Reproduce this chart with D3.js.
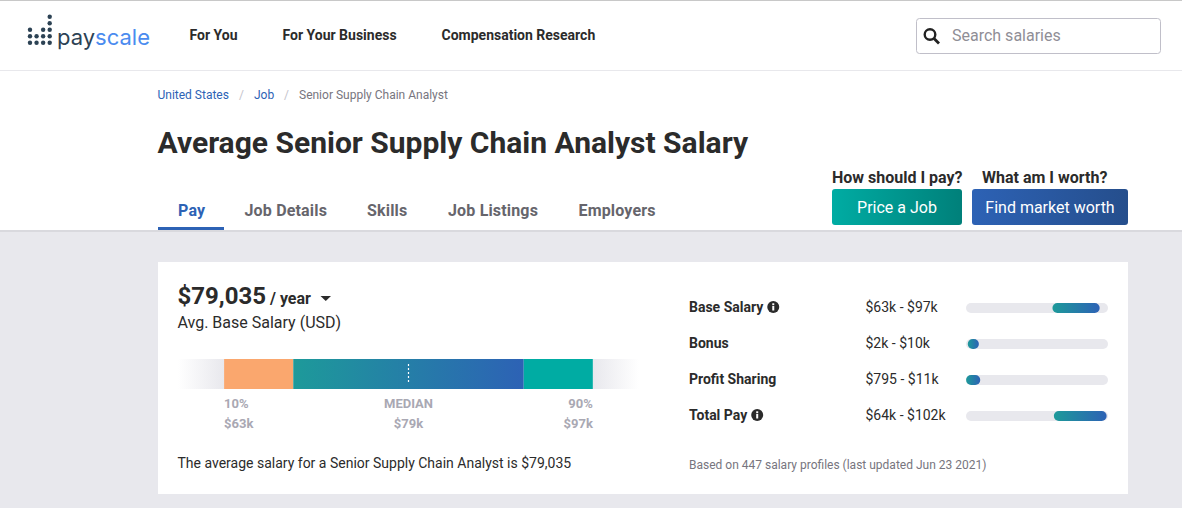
<!DOCTYPE html>
<html><head><meta charset="utf-8">
<script src="https://cdn.jsdelivr.net/npm/d3@7/dist/d3.min.js"></script>
<style>html,body{margin:0;padding:0;background:#fff;overflow:hidden}svg{display:block}text{font-family:Roboto,sans-serif}</style>
</head><body><svg id="c" width="1182" height="508"></svg>
<script>
const navItems=["For You","For Your Business","Compensation Research"];
const navX=[189.5,282.5,441.5];
const crumbs=["United States","/","Job","/","Senior Supply Chain Analyst"];
const crumbX=[157.5,239,254,284,299];
const crumbColors=["#2d62b5","#c4c4cc","#2d62b5","#c4c4cc","#77757e"];
const tabs=["Pay","Job Details","Skills","Job Listings","Employers"];
const tabX=[178,244.5,367,448,578.5];
const pctStops=[10,25,75,90];
const pctLabels=["10%","MEDIAN","90%"];
const pctPos=[10,50,90];
const pctValues=["$63k","$79k","$97k"];
const rowNames=["Base Salary","Bonus","Profit Sharing","Total Pay"];
const rowInfo=[true,false,false,true];
const rowRange=["$63k - $97k","$2k - $10k","$795 - $11k","$64k - $102k"];
const rowLow=[63,2,0.795,64];
const rowHigh=[97,10,11,102];
const rowY=[307,343,379,415];
const logoCols=[0,1,2,3];
const logoHeights=[3,2,3,5];

const svg=d3.select("#c");
const defs=svg.append("defs");
function grad(id,stops,x2=1){const g=defs.append("linearGradient").attr("id",id).attr("x1",0).attr("x2",x2).attr("y1",0).attr("y2",0);
 stops.forEach(([o,c,a])=>g.append("stop").attr("offset",o).attr("stop-color",c).attr("stop-opacity",a==null?1:a));}
grad("main",[[0,"#1d9a9a"],[1,"#2d62b5"]]);
grad("fadeL",[[0,"#e8e8ed",0],[1,"#e8e8ed",1]]);
grad("fadeR",[[0,"#e8e8ed",1],[1,"#e8e8ed",0]]);
grad("btnA",[[0,"#00aca3"],[1,"#00807a"]]);
grad("btnB",[[0,"#2d62b5"],[1,"#254e8c"]]);
function txt(x,y,s,size,weight,fill,anchor){return svg.append("text").attr("x",x).attr("y",y).attr("font-size",size).attr("font-weight",weight).attr("fill",fill).attr("text-anchor",anchor||"start").text(s);}

// backgrounds
svg.append("rect").attr("width",1182).attr("height",508).attr("fill","#fff");
svg.append("rect").attr("width",1182).attr("height",1).attr("fill","#c8c8c8");
svg.append("rect").attr("y",70).attr("width",1182).attr("height",1).attr("fill","#e8e8ec");
svg.append("rect").attr("y",230).attr("width",1182).attr("height",278).attr("fill","#e8e8ed");
svg.append("rect").attr("y",230).attr("width",1182).attr("height",2).attr("fill","#d9d9de");
svg.append("rect").attr("x",158).attr("y",262).attr("width",970).attr("height",232).attr("fill","#fff");

// logo
const lx=d3.scaleLinear().domain([0,3]).range([30,49.7]);
const ly=d3.scaleLinear().domain([0,4]).range([42.7,16.7]);
const g=svg.append("g");
logoCols.forEach(c=>d3.range(logoHeights[c]).forEach(r=>{
 g.append("circle").attr("cx",lx(c)).attr("cy",ly(r)).attr("r",2.2).attr("fill","#2c4254");}));
const lt=svg.append("text").attr("x",57).attr("y",45).attr("font-size",22).attr("font-weight",400).style("font-family","Inter,sans-serif");
lt.append("tspan").attr("fill","#2c4254").text("pay");
lt.append("tspan").attr("fill","#4a8bef").text("scale");

// nav
navItems.forEach((s,i)=>txt(navX[i],39.5,s,14,700,"#2b2b2b"));
svg.append("rect").attr("x",916.5).attr("y",18.5).attr("width",244).attr("height",35).attr("rx",3).attr("fill","#fff").attr("stroke","#c0bfc9");
svg.append("circle").attr("cx",930).attr("cy",34.5).attr("r",5.3).attr("fill","none").attr("stroke","#222").attr("stroke-width",2.4);
svg.append("line").attr("x1",934).attr("y1",38.5).attr("x2",939).attr("y2",43.5).attr("stroke","#222").attr("stroke-width",2.8);
txt(952,40.5,"Search salaries",16,400,"#8f8e96");

// breadcrumb
crumbs.forEach((s,i)=>txt(crumbX[i],99,s,12,400,crumbColors[i]));
txt(157.5,153,"Average Senior Supply Chain Analyst Salary",30,700,"#2b2b2b");

// tabs
tabs.forEach((s,i)=>txt(tabX[i],216,s,16,700,i==0?"#2d62b5":"#66656c").attr("letter-spacing",0.17));
svg.append("rect").attr("x",158).attr("y",227).attr("width",66).attr("height",3).attr("fill","#2d62b5");

// CTAs
txt(832,183,"How should I pay?",16,700,"#2b2b2b");
txt(982,183,"What am I worth?",16,700,"#2b2b2b");
svg.append("rect").attr("x",832).attr("y",189).attr("width",130).attr("height",36).attr("rx",3).attr("fill","url(#btnA)");
svg.append("rect").attr("x",972).attr("y",189).attr("width",156).attr("height",36).attr("rx",3).attr("fill","url(#btnB)");
txt(897,213,"Price a Job",16,400,"#fff","middle");
txt(1050,213,"Find market worth",16,400,"#fff","middle");

// headline
txt(177.5,304,"$79,035",24,700,"#2b2b2b");
txt(270,304,"/ year",16,700,"#2b2b2b");
svg.append("path").attr("d","M320.5 296h10.5l-5.25 5z").attr("fill","#2b2b2b");
txt(177.5,328,"Avg. Base Salary (USD)",16,400,"#2b2b2b");

// percentile bar
const xP=d3.scaleLinear().domain([0,100]).range([178,639]);
const barY=359,barH=30;
const seg=(a,b,fill)=>svg.append("rect").attr("x",xP(a)).attr("y",barY).attr("width",xP(b)-xP(a)).attr("height",barH).attr("fill",fill);
seg(0,pctStops[0],"url(#fadeL)");
seg(pctStops[0],pctStops[1],"#faa76e");
seg(pctStops[1],pctStops[2],"url(#main)");
seg(pctStops[2],pctStops[3],"#00aca3");
seg(pctStops[3],100,"url(#fadeR)");
svg.append("line").attr("x1",xP(50)).attr("x2",xP(50)).attr("y1",364).attr("y2",384).attr("stroke","#fff").attr("stroke-width",1.2).attr("stroke-dasharray","2 2");
const anchors=["start","middle","end"];
pctPos.forEach((p,i)=>{
 txt(xP(p),408,pctLabels[i],13,700,"#a9a8b3",anchors[i]);
 txt(xP(p),428,pctValues[i],13,700,"#a9a8b3",anchors[i]);
});
txt(177.5,468,"The average salary for a Senior Supply Chain Analyst is $79,035",14,400,"#2b2b2b");

// range rows
const xR=d3.scaleLinear().domain([0,103]).range([965,1108]);
rowNames.forEach((n,i)=>{
 const y=rowY[i];
 const t=txt(689,y+5,n,14,700,"#2b2b2b");
 if(rowInfo[i]){
  const w=t.node().getComputedTextLength();
  const cx=689+w+10;
  svg.append("circle").attr("cx",cx).attr("cy",y).attr("r",6).attr("fill","#2b2b2b");
  svg.append("rect").attr("x",cx-1).attr("y",y-1).attr("width",2).attr("height",4.5).attr("fill","#fff");
  svg.append("rect").attr("x",cx-1).attr("y",y-3.7).attr("width",2).attr("height",1.9).attr("fill","#fff");
 }
 txt(865.5,y+5,rowRange[i],14,400,"#2b2b2b");
 svg.append("rect").attr("x",966).attr("y",y-4).attr("width",142).attr("height",10).attr("rx",5).attr("fill","#e8e8ed");
 svg.append("rect").attr("x",xR(rowLow[i])).attr("y",y-4).attr("width",xR(rowHigh[i])-xR(rowLow[i])).attr("height",10).attr("rx",5).attr("fill","url(#main)");
});
txt(689,469,"Based on 447 salary profiles (last updated Jun 23 2021)",12,400,"#77757e");
</script></body></html>
